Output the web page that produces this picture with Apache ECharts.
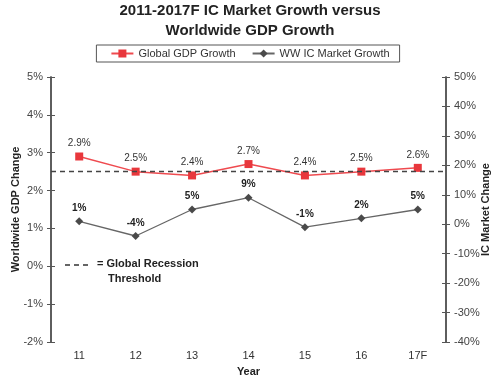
<!DOCTYPE html>
<html><head><meta charset="utf-8">
<script src="https://cdn.jsdelivr.net/npm/echarts@6/dist/echarts.min.js"></script>
<style>html,body{margin:0;padding:0;background:#fff}#c{width:500px;height:379px}</style>
</head><body><div id="c"></div>
<script>
const years = ['11','12','13','14','15','16','17F'];
const gdpGrowth = [2.9, 2.5, 2.4, 2.7, 2.4, 2.5, 2.6];
const icGrowth = [1, -4, 5, 9, -1, 2, 5];
const recessionThreshold = 2.5;
const gdpTicks = {min: -2, max: 5, interval: 1};
const icTicks = {min: -40, max: 50, interval: 10};

const FONT = 'Liberation Sans, Arial, sans-serif';
const axisColor = '#555';
const chart = echarts.init(document.getElementById('c'));
const baseY = (o) => Object.assign({
  type: 'value', splitLine: {show: false},
  axisLine: {show: true, lineStyle: {color: axisColor, width: 1.5}},
}, o);
chart.setOption({
  animation: false,
  textStyle: {fontFamily: FONT},
  title: {
    text: '2011-2017F IC Market Growth versus\nWorldwide GDP Growth',
    left: 'center', top: -4,
    textStyle: {fontFamily: FONT, fontWeight: 'bold', fontSize: 15, lineHeight: 20, color: '#222'}
  },
  legend: {
    top: 45, left: 'center',
    borderColor: '#555', borderWidth: 1, padding: [3, 10, 3, 14], itemGap: 16,
    itemWidth: 22, itemHeight: 10,
    textStyle: {fontSize: 11, color: '#333', fontFamily: FONT},
    data: ['Global GDP Growth', 'WW IC Market Growth']
  },
  grid: {left: 51, right: 54, top: 77, bottom: 37, containLabel: false, outerBoundsMode: 'none'},
  xAxis: {
    type: 'category', data: years, boundaryGap: true,
    axisLine: {show: false}, axisTick: {show: false},
    axisLabel: {fontSize: 11, color: '#333', margin: 8},
    name: 'Year', nameLocation: 'middle', nameGap: 24, nameMoveOverlap: false,
    nameTextStyle: {fontWeight: 'bold', fontSize: 11, color: '#222'}
  },
  yAxis: [
    baseY({position: 'left', min: gdpTicks.min, max: gdpTicks.max, interval: gdpTicks.interval,
      axisTick: {show: true, length: 4, lineStyle: {color: axisColor}},
      axisLabel: {formatter: '{value}%', fontSize: 11, color: '#444', margin: 8},
      name: 'Worldwide GDP Change', nameLocation: 'middle', nameGap: 30, nameRotate: 90, nameMoveOverlap: false,
      nameTextStyle: {fontWeight: 'bold', fontSize: 11, color: '#222'}}),
    baseY({position: 'right', min: icTicks.min, max: icTicks.max, interval: icTicks.interval,
      axisTick: {show: true, length: 4, lineStyle: {color: axisColor}},
      axisLabel: {formatter: '{value}%', fontSize: 11, color: '#444', margin: 8},
      name: 'IC Market Change', nameLocation: 'middle', nameGap: 34, nameRotate: 90, nameMoveOverlap: false,
      nameTextStyle: {fontWeight: 'bold', fontSize: 11, color: '#222'}}),
    baseY({position: 'left', min: gdpTicks.min, max: gdpTicks.max, interval: gdpTicks.interval,
      axisTick: {show: true, inside: true, length: 4, lineStyle: {color: axisColor}}, axisLabel: {show: false}}),
    baseY({position: 'right', min: icTicks.min, max: icTicks.max, interval: icTicks.interval,
      axisTick: {show: true, inside: true, length: 4, lineStyle: {color: axisColor}}, axisLabel: {show: false}})
  ],
  series: [
    {
      name: 'Global GDP Growth', type: 'line', yAxisIndex: 0, data: gdpGrowth,
      symbol: 'rect', symbolSize: 8,
      itemStyle: {color: '#e8373c'}, lineStyle: {color: '#ef4a4f', width: 1.5},
      label: {show: true, position: 'top', distance: 4, formatter: '{c}%', fontSize: 10, color: '#333'},
      markLine: {
        silent: true, symbol: 'none', label: {show: false},
        lineStyle: {color: '#444', type: [5, 4], width: 1.3},
        data: [{yAxis: recessionThreshold}]
      },
      z: 3
    },
    {
      name: 'WW IC Market Growth', type: 'line', yAxisIndex: 1, data: icGrowth,
      symbol: 'diamond', symbolSize: 8,
      itemStyle: {color: '#4a4a4a'}, lineStyle: {color: '#666', width: 1.3},
      label: {show: true, position: 'top', distance: 4, formatter: '{c}%', fontSize: 10, fontWeight: 'bold', color: '#222'},
      z: 2
    }
  ],
  graphic: [
    {type: 'line', shape: {x1: 65, y1: 265, x2: 90, y2: 265},
      style: {stroke: '#333', lineWidth: 1.5, lineDash: [5, 4]}},
    {type: 'text', left: 97, top: 258,
      style: {text: '= Global Recession', font: 'bold 11px ' + FONT, fill: '#222'}},
    {type: 'text', left: 108, top: 273,
      style: {text: 'Threshold', font: 'bold 11px ' + FONT, fill: '#222'}}
  ]
});
</script></body></html>
